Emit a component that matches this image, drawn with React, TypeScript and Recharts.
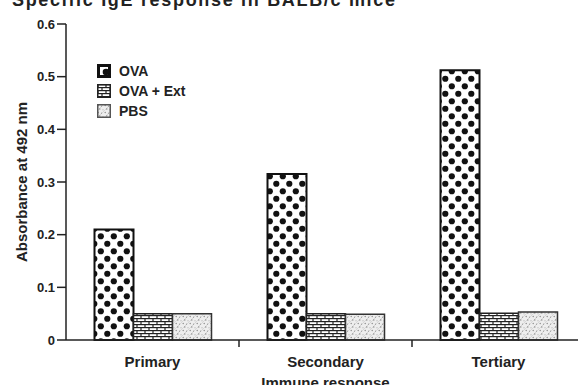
import React from "react";
import { BarChart, Bar, XAxis, YAxis } from "recharts";

const categories = ["Primary", "Secondary", "Tertiary"];
const ovaValues = [0.21, 0.315, 0.512];
const ovaExtValues = [0.05, 0.05, 0.051];
const pbsValues = [0.05, 0.049, 0.053];
const yTicks = [0, 0.1, 0.2, 0.3, 0.4, 0.5, 0.6];

const seriesNames = ["OVA", "OVA + Ext", "PBS"];

const data = categories.map((c, i) => ({
  name: c,
  ova: ovaValues[i],
  ext: ovaExtValues[i],
  pbs: pbsValues[i],
}));

const FONT = "'Liberation Sans', Arial, sans-serif";

// hidden svg holding the fill patterns
const Patterns = () => (
  <svg width={0} height={0} style={{ position: "absolute" }}>
    <defs>
      <pattern id="dots" width={13} height={15} patternUnits="userSpaceOnUse">
        <rect width={13} height={15} fill="#fff" />
        <circle cx={3.3} cy={3.75} r={3.1} fill="#111" />
        <circle cx={9.8} cy={11.25} r={3.1} fill="#111" />
      </pattern>
      <pattern id="bricks" width={8} height={6} patternUnits="userSpaceOnUse">
        <rect width={8} height={6} fill="#fff" />
        <line x1={0} y1={0.6} x2={8} y2={0.6} stroke="#222" strokeWidth={1.2} />
        <line x1={0} y1={3.6} x2={8} y2={3.6} stroke="#222" strokeWidth={1.2} />
        <line x1={1} y1={0} x2={1} y2={3} stroke="#222" strokeWidth={1.2} />
        <line x1={5} y1={3} x2={5} y2={6} stroke="#222" strokeWidth={1.2} />
      </pattern>
      <pattern id="stipple" width={7} height={7} patternUnits="userSpaceOnUse">
        <rect width={7} height={7} fill="#eee" />
        <line x1={0} y1={7} x2={7} y2={0} stroke="#c8c8c8" strokeWidth={0.6} />
        <circle cx={1.2} cy={1.5} r={0.7} fill="#888" />
        <circle cx={4.5} cy={2.2} r={0.6} fill="#999" />
        <circle cx={2.8} cy={5} r={0.7} fill="#888" />
        <circle cx={6} cy={5.8} r={0.5} fill="#999" />
      </pattern>
    </defs>
  </svg>
);

const OvaIcon = () => (
  <svg width={14} height={14}>
    <rect x={0} y={0} width={14} height={14} fill="#111" />
    <rect x={3} y={3} width={8} height={8} fill="#fff" />
    <circle cx={9} cy={8} r={3.3} fill="#111" />
  </svg>
);

const PatternIcon = ({ fill, stroke }: { fill: string; stroke: string }) => (
  <svg width={14} height={14}>
    <rect x={0.75} y={0.75} width={12.5} height={12.5} fill={fill} stroke={stroke} strokeWidth={1.5} />
  </svg>
);

// legend drawn as an overlay so it takes no room from the plot
const LegendBox = () => (
  <div
    style={{
      position: "absolute",
      left: 97,
      top: 61,
      fontFamily: FONT,
      fontWeight: 700,
      fontSize: 14,
      color: "#222",
    }}
  >
    {seriesNames.map((n, i) => (
      <div key={n} style={{ display: "flex", alignItems: "center", height: 20 }}>
        {i === 0 && <OvaIcon />}
        {i === 1 && <PatternIcon fill="url(#bricks)" stroke="#222" />}
        {i === 2 && <PatternIcon fill="url(#stipple)" stroke="#555" />}
        <span style={{ marginLeft: 8 }}>{n}</span>
      </div>
    ))}
  </div>
);

const CategoryTick = (props: any) => {
  const { x, y, payload, index } = props;
  const half = payload && payload.offset ? payload.offset : 86.5;
  return (
    <g>
      {index > 0 && (
        <line x1={x - half} y1={340} x2={x - half} y2={347} stroke="#222" strokeWidth={1.5} />
      )}
      <text
        x={x}
        y={y}
        dy={19}
        textAnchor="middle"
        fontFamily={FONT}
        fontWeight={700}
        fontSize={15}
        fill="#222"
      >
        {payload.value}
      </text>
    </g>
  );
};

export default function App() {
  return (
    <div style={{ position: "absolute", left: 0, top: 0, width: 578, height: 385, overflow: "hidden", background: "#fff" }}>
      <Patterns />
      <svg width={578} height={20} style={{ position: "absolute", left: 0, top: 0 }}>
        <text x={12} y={6} fontFamily={FONT} fontWeight={700} fontSize={18} fill="#222" textLength={383}>
          Specific IgE response in BALB/c mice
        </text>
      </svg>
      <BarChart
        width={600}
        height={385}
        data={data}
        margin={{ top: 24, right: 15, left: 16, bottom: 0 }}
        barCategoryGap={28.5}
        barGap={0}
      >
        <XAxis
          dataKey="name"
          height={45}
          axisLine={{ stroke: "#222", strokeWidth: 1.5 }}
          tickLine={false}
          tick={<CategoryTick />}
          label={{
            value: "Immune response",
            position: "insideBottom",
            offset: -3,
            style: { fontFamily: FONT, fontWeight: 700, fontSize: 15, fill: "#222" },
          }}
        />
        <YAxis
          width={50}
          domain={[0, 0.6]}
          ticks={yTicks}
          interval={0}
          tickSize={9}
          tickMargin={2}
          axisLine={{ stroke: "#222", strokeWidth: 1.5 }}
          tickLine={{ stroke: "#222", strokeWidth: 1.5 }}
          tick={{ fontFamily: FONT, fontWeight: 700, fontSize: 13, fill: "#222" }}
          tickFormatter={(v: number) => String(v)}
          label={{
            value: "Absorbance at 492 nm",
            angle: -90,
            position: "insideLeft",
            offset: 6,
            style: { fontFamily: FONT, fontWeight: 700, fontSize: 15, fill: "#222", textAnchor: "middle" },
          }}
        />
        <Bar dataKey="ova" name={seriesNames[0]} fill="url(#dots)" stroke="#111" strokeWidth={2} isAnimationActive={false} />
        <Bar dataKey="ext" name={seriesNames[1]} fill="url(#bricks)" stroke="#222" strokeWidth={1.5} isAnimationActive={false} />
        <Bar dataKey="pbs" name={seriesNames[2]} fill="url(#stipple)" stroke="#333" strokeWidth={1.5} isAnimationActive={false} />
      </BarChart>
      <LegendBox />
    </div>
  );
}
